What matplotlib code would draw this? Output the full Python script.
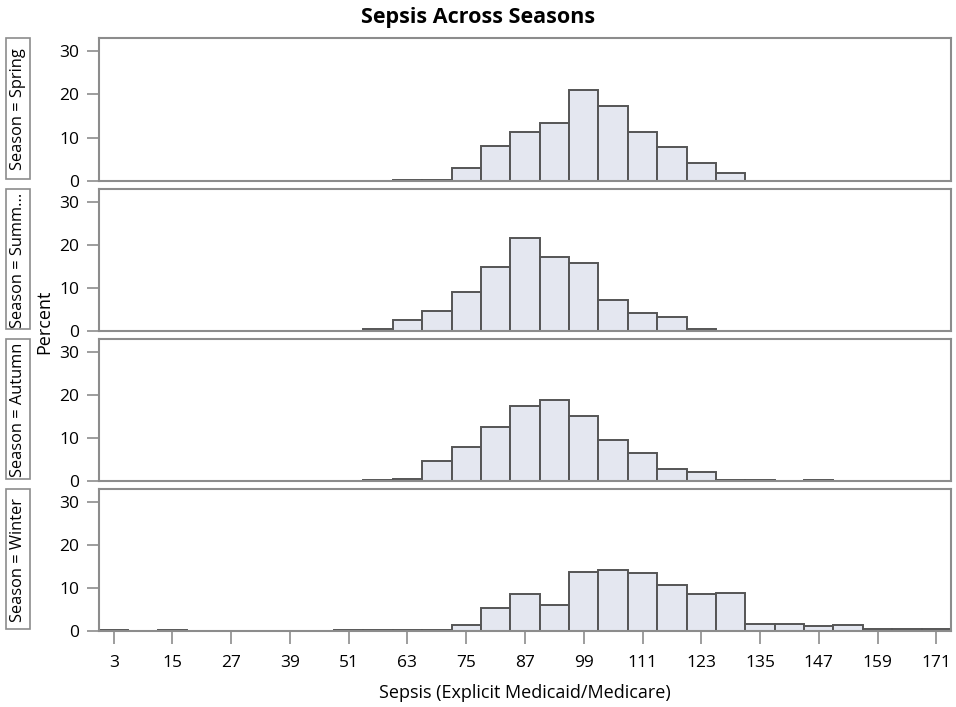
import matplotlib.pyplot as plt
from matplotlib.patches import Rectangle

plt.rcParams['font.family'] = ['Open Sans', 'DejaVu Sans']

# bin edges are multiples of 6, bins centred on 3, 9, 15, ...
bin_width = 6
seasons = ['Spring', 'Summer', 'Autumn', 'Winter']
row_labels = ['Season = Spring', 'Season = Summ...', 'Season = Autumn', 'Season = Winter']

spring_left = [60, 66, 72, 78, 84, 90, 96, 102, 108, 114, 120, 126]
spring_pct = [0.3, 0.3, 3.1, 8.1, 11.4, 13.3, 20.9, 17.4, 11.4, 7.9, 4.1, 1.9]

summer_left = [54, 60, 66, 72, 78, 84, 90, 96, 102, 108, 114, 120]
summer_pct = [0.4, 2.5, 4.6, 9.0, 14.8, 21.7, 17.2, 15.9, 7.2, 4.2, 3.2, 0.4]

autumn_left = [54, 60, 66, 72, 78, 84, 90, 96, 102, 108, 114, 120, 126, 132, 144]
autumn_pct = [0.3, 0.55, 4.6, 7.9, 12.6, 17.5, 18.9, 15.2, 9.6, 6.6, 2.9, 2.2, 0.3, 0.3, 0.3]

winter_left = [0, 12, 48, 54, 60, 66, 72, 78, 84, 90, 96, 102, 108, 114, 120,
               126, 132, 138, 144, 150, 156, 162, 168]
winter_pct = [0.3, 0.3, 0.25, 0.25, 0.25, 0.25, 1.4, 5.3, 8.6, 6.0, 13.8, 14.1, 13.4, 10.8, 8.6,
              8.9, 1.6, 1.6, 1.1, 1.4, 0.55, 0.55, 0.55]

lefts = [spring_left, summer_left, autumn_left, winter_left]
pcts = [spring_pct, summer_pct, autumn_pct, winter_pct]

xticks = list(range(3, 172, 12))
yticks = [0, 10, 20, 30]

W, H = 956, 707
fig = plt.figure(figsize=(W / 100, H / 100), dpi=100)

gray = '#8c8c8c'
panel_px = [(38, 181), (189, 331), (339, 481), (489, 631)]  # top, bottom in pixels
ax_left, ax_right = 99, 951

for i, (top, bot) in enumerate(panel_px):
    ax = fig.add_axes([ax_left / W, 1 - bot / H, (ax_right - ax_left) / W, (bot - top) / H])
    ax.bar(lefts[i], pcts[i], width=bin_width, align='edge',
           color='#e4e7f0', edgecolor='#555555', linewidth=1.4, zorder=2)
    ax.set_xlim(0, 174)
    ax.set_ylim(0, 33)
    ax.set_yticks(yticks)
    for s in ax.spines.values():
        s.set_color(gray)
        s.set_linewidth(1.5)
    ax.tick_params(axis='y', colors=gray, labelcolor='black', labelsize=12.5,
                   length=9, width=1.2, pad=5)
    ax.set_xticks(xticks)
    if i < 3:
        ax.tick_params(axis='x', bottom=False, labelbottom=False)
    else:
        ax.tick_params(axis='x', colors=gray, labelcolor='black', labelsize=12.5,
                       length=9, width=1.2, pad=8)

    # boxed row header on the left
    fig.patches.append(Rectangle((6 / W, 1 - (bot - 2) / H), 24 / W, (bot - top - 2) / H,
                                 transform=fig.transFigure, fill=False,
                                 edgecolor=gray, linewidth=1.2))
    fig.text(18 / W, 1 - (top + bot) / 2 / H, row_labels[i], rotation=90,
             ha='center', va='center', fontsize=11.8)

fig.text(44 / W, 1 - 322 / H, 'Percent', rotation=90, ha='center', va='center', fontsize=13)
fig.text((ax_left + ax_right) / 2 / W, 1 - 693 / H, 'Sepsis (Explicit Medicaid/Medicare)',
         ha='center', va='center', fontsize=13)
fig.text(478 / W, 1 - 18 / H, 'Sepsis Across Seasons', ha='center', va='center',
         fontsize=15.5, fontweight='bold')

fig.savefig('out.png', dpi=100)
